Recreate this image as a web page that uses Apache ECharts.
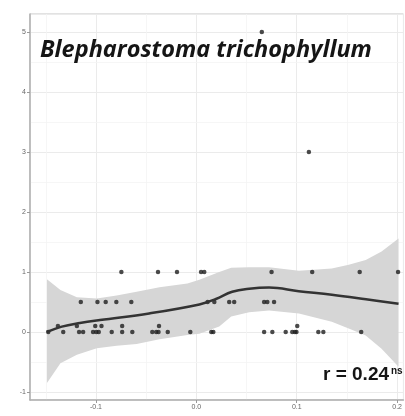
<!DOCTYPE html>
<html>
<head>
<meta charset="utf-8">
<script src="https://cdn.jsdelivr.net/npm/echarts@6/dist/echarts.min.js"></script>
<style>
html,body{margin:0;padding:0;background:#fff;}
#chart{width:405px;height:416px;}
</style>
</head>
<body>
<div id="chart"></div>
<script>
// Scatter points (x, y)
const pointsX = [
  -0.1475,-0.1326,-0.1168,-0.1128,-0.1029,-0.0997,-0.0972,-0.0843,-0.0739,-0.0638,
  -0.0439,-0.0400,-0.0377,-0.0285,-0.0060,0.0149,0.0169,0.0675,0.0757,0.0890,
  0.0955,0.0982,0.0997,0.1215,0.1265,0.1642,
  -0.1379,-0.1190,-0.1007,-0.0945,-0.0739,-0.0372,0.1005,
  -0.1151,-0.0985,-0.0903,-0.0797,-0.0648,0.0112,0.0179,0.0327,0.0377,0.0675,0.0707,0.0774,
  -0.0747,-0.0382,-0.0193,0.0047,0.0079,0.0749,0.1154,0.1627,0.2009,
  0.1121,0.0652
];
const pointsY = [
  0,0,0,0,0,0,0,0,0,0,
  0,0,0,0,0,0,0,0,0,0,
  0,0,0,0,0,0,
  0.1,0.1,0.1,0.1,0.1,0.1,0.1,
  0.5,0.5,0.5,0.5,0.5,0.5,0.5,0.5,0.5,0.5,0.5,0.5,
  1,1,1,1,1,1,1,1,1,
  3,5
];
// Smoothed fit line
const fitX = [-0.149,-0.134,-0.116,-0.096,-0.047,0.003,0.0195,0.0357,0.0526,0.0724,0.102,0.135,0.169,0.2014];
const fitY = [0,0.09,0.15,0.20,0.31,0.46,0.55,0.67,0.72,0.74,0.68,0.62,0.545,0.47];
// Confidence band
const bandX =     [-0.1488,-0.1354,-0.119,-0.0992,-0.0794,-0.0595,-0.0367,-0.0089,0.003,0.0228,0.0347,0.0526,0.0724,0.1022,0.1349,0.1518,0.1687,0.1845,0.2014];
const bandUpper = [0.88,0.70,0.58,0.56,0.61,0.67,0.745,0.81,0.87,1.00,1.07,1.08,1.08,1.02,1.06,1.12,1.2,1.34,1.56];
const bandLower = [-0.85,-0.52,-0.38,-0.27,-0.23,-0.20,-0.12,-0.05,-0.03,0.09,0.26,0.33,0.36,0.31,0.17,0.06,-0.06,-0.28,-0.58];
// Minor grid values
const minorX = [-0.15,-0.05,0.05,0.15];
const minorY = [-0.5,0.5,1.5,2.5,3.5,4.5];
const titleText = 'Blepharostoma trichophyllum';
const statText = 'r = 0.24';
const statSup = 'ns';

const chart = echarts.init(document.getElementById('chart'), null, {renderer:'canvas'});
const scatterData = pointsX.map((x,i)=>[x,pointsY[i]]);
const fitData = fitX.map((x,i)=>[x,fitY[i]]);

const option = {
  animation:false,
  grid:{left:30,right:0,top:14,bottom:16,show:true,borderColor:'#c4c4c4',borderWidth:1,backgroundColor:'#fff'},
  xAxis:{
    type:'value', min:-0.1657, max:0.2063, minInterval:0.1, maxInterval:0.1,
    axisLine:{show:true,onZero:false,lineStyle:{color:'#b0b0b0',width:1.5}},
    axisTick:{show:true,length:3,lineStyle:{color:'#999'}},
    axisLabel:{fontSize:7,color:'#666',margin:4,showMinLabel:false,showMaxLabel:false,
      formatter:v=>v.toFixed(1), fontFamily:'Liberation Sans'},
    splitLine:{show:true,lineStyle:{color:'#ebebeb',width:1}}
  },
  yAxis:{
    type:'value', min:-1.133, max:5.3, minInterval:1, maxInterval:1,
    axisLine:{show:true,onZero:false,lineStyle:{color:'#b0b0b0',width:1.5}},
    axisTick:{show:true,length:3,lineStyle:{color:'#999'}},
    axisLabel:{fontSize:7,color:'#666',margin:4,showMinLabel:false,showMaxLabel:false,
      formatter:v=>String(Math.round(v)), fontFamily:'Liberation Sans'},
    splitLine:{show:true,lineStyle:{color:'#ebebeb',width:1}}
  },
  series:[
    {
      type:'line', data:[], silent:true, z:0,
      markLine:{silent:true,z:0,zlevel:0,symbol:['none','none'],label:{show:false},animation:false,
        lineStyle:{color:'#f4f4f4',width:0.8,type:'solid'},
        data: minorX.map(v=>({xAxis:v})).concat(minorY.map(v=>({yAxis:v})))}
    },
    {
      type:'custom', silent:true, z:1,
      data:[[bandX[0],bandLower[0]]],
      renderItem:(params,api)=>{
        const pts=[];
        for(let i=0;i<bandX.length;i++) pts.push(api.coord([bandX[i],bandUpper[i]]));
        for(let i=bandX.length-1;i>=0;i--) pts.push(api.coord([bandX[i],bandLower[i]]));
        return {type:'polygon',shape:{points:pts},style:{fill:'#d6d6d6',stroke:null}};
      }
    },
    {
      type:'scatter', data:scatterData, symbolSize:4.5, z:3, silent:true,
      itemStyle:{color:'#1e1e1e'}
    },
    {
      type:'line', data:fitData, smooth:0.4, symbol:'none', z:4, silent:true,
      lineStyle:{color:'#333',width:2.5}
    }
  ],
  graphic:[
    {type:'text', left:40, top:39, z:10, style:{text:titleText, font:'italic bold 23.5px "Open Sans"', fill:'#151515'}},
    {type:'text', left:323, top:365, z:10, style:{text:statText, font:'bold 19px "Liberation Sans"', fill:'#151515'}},
    {type:'text', left:391, top:366, z:10, style:{text:statSup, font:'bold 10px "Liberation Sans"', fill:'#151515'}}
  ]
};
chart.setOption(option);
</script>
</body>
</html>
